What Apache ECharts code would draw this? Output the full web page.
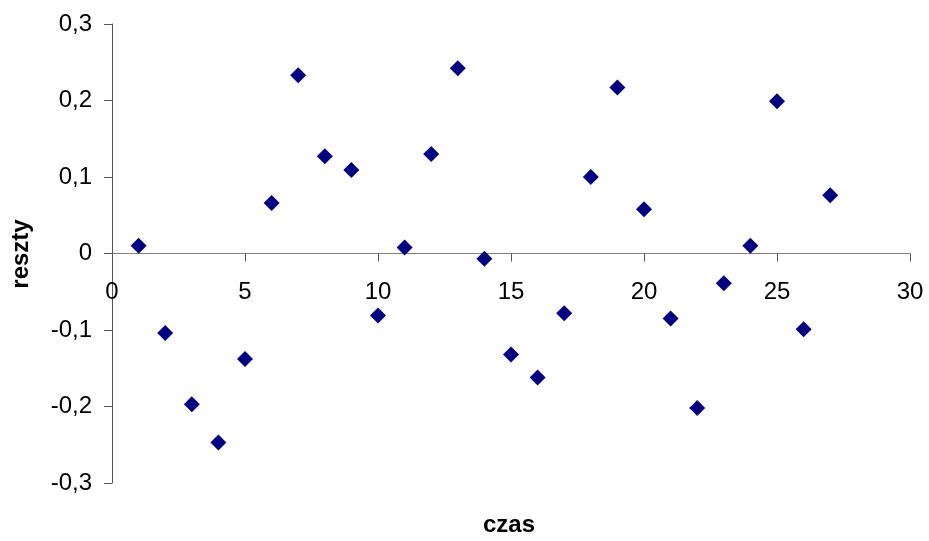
<!DOCTYPE html>
<html>
<head>
<meta charset="utf-8">
<script src="https://cdn.jsdelivr.net/npm/echarts@6/dist/echarts.min.js"></script>
<style>
  html, body { margin: 0; padding: 0; background: #fff; }
  #chart { width: 929px; height: 541px; }
</style>
</head>
<body>
<div id="chart"></div>
<script>
// Residuals plotted against time
const czas = [1, 2, 3, 4, 5, 6, 7, 8, 9, 10, 11, 12, 13, 14, 15, 16, 17, 18, 19, 20, 21, 22, 23, 24, 25, 26, 27];
const reszty = [0.010, -0.104, -0.197, -0.247, -0.138, 0.066, 0.233, 0.127, 0.109, -0.081,
                0.008, 0.130, 0.242, -0.007, -0.132, -0.162, -0.078, 0.100, 0.217, 0.058,
                -0.085, -0.202, -0.039, 0.010, 0.199, -0.099, 0.076];
const xTicks = [0, 5, 10, 15, 20, 25, 30];
const yTicks = [-0.3, -0.2, -0.1, 0, 0.1, 0.2, 0.3];

const points = czas.map((t, i) => [t, reszty[i]]);
const fontFamily = '"Liberation Sans", Arial, sans-serif';

const gridTop = 24, gridBottom = 58, chartH = 541;
const plotH = chartH - gridTop - gridBottom;
const yMin = yTicks[0], yMax = yTicks[yTicks.length - 1];
// shift the x axis (line, ticks and labels) up to the y = 0 level
const zeroOffset = -plotH * (0 - yMin) / (yMax - yMin);

const chart = echarts.init(document.getElementById('chart'), null, { renderer: 'canvas' });
chart.setOption({
  animation: false,
  backgroundColor: '#ffffff',
  grid: { left: 112, right: 19, top: gridTop, bottom: gridBottom, containLabel: false },
  xAxis: {
    type: 'value',
    position: 'bottom',
    offset: zeroOffset,
    min: xTicks[0],
    max: xTicks[xTicks.length - 1],
    interval: xTicks[1] - xTicks[0],
    axisLine: { onZero: false, lineStyle: { color: '#808080', width: 1 } },
    axisTick: { show: true, inside: false, length: 8, lineStyle: { color: '#555' } },
    axisLabel: { color: '#000', fontSize: 24, fontFamily, margin: 27 },
    splitLine: { show: false }
  },
  yAxis: {
    type: 'value',
    min: yMin,
    max: yMax,
    interval: 0.1,
    axisLine: { show: true, onZero: false, lineStyle: { color: '#555', width: 1 } },
    axisTick: { show: true, inside: false, length: 8, lineStyle: { color: '#555' } },
    axisLabel: {
      color: '#000', fontSize: 24, fontFamily, margin: 20,
      formatter: v => (Math.abs(v) < 1e-9 ? '0' : v.toFixed(1).replace('.', ','))
    },
    splitLine: { show: false }
  },
  graphic: [
    {
      type: 'text', rotation: Math.PI / 2,
      x: 21, y: 254,
      style: { text: 'reszty', fill: '#000', font: 'bold 24px "Liberation Sans", Arial, sans-serif',
               textAlign: 'center', textVerticalAlign: 'middle' }
    },
    {
      type: 'text',
      x: 509, y: 525,
      style: { text: 'czas', fill: '#000', font: 'bold 24px "Liberation Sans", Arial, sans-serif',
               textAlign: 'center', textVerticalAlign: 'middle' }
    }
  ],
  series: [{
    type: 'scatter',
    data: points,
    symbol: 'diamond',
    symbolSize: 16,
    itemStyle: { color: '#000080', opacity: 1 }
  }]
});
</script>
</body>
</html>
